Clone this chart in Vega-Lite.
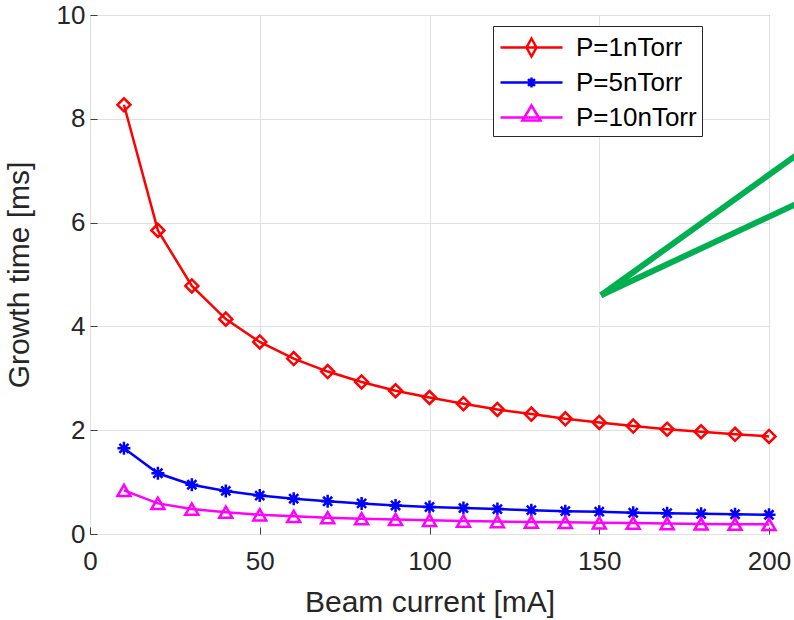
{
  "$schema": "https://vega.github.io/schema/vega-lite/v6.json",
  "width": 679,
  "height": 519,
  "autosize": {"type": "none"},
  "padding": {"left": 90, "top": 15, "right": 25, "bottom": 86},
  "background": "white",
  "config": {
    "font": "Liberation Sans",
    "view": {"stroke": "#404040", "strokeWidth": 1},
    "axis": {
      "domain": false,
      "grid": true,
      "gridColor": "#e0e0e0",
      "gridWidth": 1,
      "tickColor": "#404040",
      "tickSize": -7,
      "labelFlush": false,
      "labelOverlap": false,
      "labelFontSize": 26,
      "labelColor": "#262626",
      "labelFont": "Liberation Sans",
      "titleFont": "Liberation Sans",
      "titleFontSize": 30,
      "titleFontWeight": "normal",
      "titleColor": "#262626"
    }
  },
  "datasets": {
    "curves": [
      {"I": 10, "t": 8.27, "series": "P=1nTorr"},
      {"I": 20, "t": 5.85, "series": "P=1nTorr"},
      {"I": 30, "t": 4.78, "series": "P=1nTorr"},
      {"I": 40, "t": 4.14, "series": "P=1nTorr"},
      {"I": 50, "t": 3.70, "series": "P=1nTorr"},
      {"I": 60, "t": 3.38, "series": "P=1nTorr"},
      {"I": 70, "t": 3.13, "series": "P=1nTorr"},
      {"I": 80, "t": 2.93, "series": "P=1nTorr"},
      {"I": 90, "t": 2.76, "series": "P=1nTorr"},
      {"I": 100, "t": 2.63, "series": "P=1nTorr"},
      {"I": 110, "t": 2.51, "series": "P=1nTorr"},
      {"I": 120, "t": 2.40, "series": "P=1nTorr"},
      {"I": 130, "t": 2.31, "series": "P=1nTorr"},
      {"I": 140, "t": 2.22, "series": "P=1nTorr"},
      {"I": 150, "t": 2.15, "series": "P=1nTorr"},
      {"I": 160, "t": 2.08, "series": "P=1nTorr"},
      {"I": 170, "t": 2.02, "series": "P=1nTorr"},
      {"I": 180, "t": 1.97, "series": "P=1nTorr"},
      {"I": 190, "t": 1.92, "series": "P=1nTorr"},
      {"I": 200, "t": 1.88, "series": "P=1nTorr"},
      {"I": 10, "t": 1.65, "series": "P=5nTorr"},
      {"I": 20, "t": 1.17, "series": "P=5nTorr"},
      {"I": 30, "t": 0.95, "series": "P=5nTorr"},
      {"I": 40, "t": 0.83, "series": "P=5nTorr"},
      {"I": 50, "t": 0.74, "series": "P=5nTorr"},
      {"I": 60, "t": 0.68, "series": "P=5nTorr"},
      {"I": 70, "t": 0.63, "series": "P=5nTorr"},
      {"I": 80, "t": 0.59, "series": "P=5nTorr"},
      {"I": 90, "t": 0.55, "series": "P=5nTorr"},
      {"I": 100, "t": 0.52, "series": "P=5nTorr"},
      {"I": 110, "t": 0.50, "series": "P=5nTorr"},
      {"I": 120, "t": 0.48, "series": "P=5nTorr"},
      {"I": 130, "t": 0.46, "series": "P=5nTorr"},
      {"I": 140, "t": 0.44, "series": "P=5nTorr"},
      {"I": 150, "t": 0.43, "series": "P=5nTorr"},
      {"I": 160, "t": 0.41, "series": "P=5nTorr"},
      {"I": 170, "t": 0.40, "series": "P=5nTorr"},
      {"I": 180, "t": 0.39, "series": "P=5nTorr"},
      {"I": 190, "t": 0.38, "series": "P=5nTorr"},
      {"I": 200, "t": 0.37, "series": "P=5nTorr"},
      {"I": 10, "t": 0.84, "series": "P=10nTorr"},
      {"I": 20, "t": 0.59, "series": "P=10nTorr"},
      {"I": 30, "t": 0.48, "series": "P=10nTorr"},
      {"I": 40, "t": 0.42, "series": "P=10nTorr"},
      {"I": 50, "t": 0.37, "series": "P=10nTorr"},
      {"I": 60, "t": 0.34, "series": "P=10nTorr"},
      {"I": 70, "t": 0.315, "series": "P=10nTorr"},
      {"I": 80, "t": 0.295, "series": "P=10nTorr"},
      {"I": 90, "t": 0.28, "series": "P=10nTorr"},
      {"I": 100, "t": 0.265, "series": "P=10nTorr"},
      {"I": 110, "t": 0.25, "series": "P=10nTorr"},
      {"I": 120, "t": 0.24, "series": "P=10nTorr"},
      {"I": 130, "t": 0.23, "series": "P=10nTorr"},
      {"I": 140, "t": 0.225, "series": "P=10nTorr"},
      {"I": 150, "t": 0.215, "series": "P=10nTorr"},
      {"I": 160, "t": 0.21, "series": "P=10nTorr"},
      {"I": 170, "t": 0.20, "series": "P=10nTorr"},
      {"I": 180, "t": 0.195, "series": "P=10nTorr"},
      {"I": 190, "t": 0.19, "series": "P=10nTorr"},
      {"I": 200, "t": 0.185, "series": "P=10nTorr"}
    ],
    "green": [
      {"I": 150.5, "t": 4.6, "seg": "a"},
      {"I": 210, "t": 7.39, "seg": "a"},
      {"I": 150.5, "t": 4.6, "seg": "b"},
      {"I": 210, "t": 6.42, "seg": "b"}
    ]
  },
  "layer": [
    {
      "data": {"name": "curves"},
      "mark": {"type": "line", "strokeWidth": 2.5},
      "encoding": {
        "x": {"field": "I", "type": "quantitative", "scale": {"domain": [0, 200], "nice": false}, "axis": {"title": "Beam current [mA]", "values": [0, 50, 100, 150, 200], "labelPadding": 21, "titlePadding": 13}},
        "y": {"field": "t", "type": "quantitative", "scale": {"domain": [0, 10], "nice": false}, "axis": {"title": "Growth time [ms]", "values": [0, 2, 4, 6, 8, 10], "labelPadding": 12, "titlePadding": 22}},
        "color": {"field": "series", "type": "nominal", "scale": {"domain": ["P=1nTorr", "P=5nTorr", "P=10nTorr"], "range": ["#ff0000", "#0000ff", "#ff00ff"]}, "legend": null}
      }
    },
    {
      "data": {"name": "curves"},
      "mark": {"type": "point", "filled": false, "strokeWidth": 2.5, "size": 169, "opacity": 1},
      "encoding": {
        "x": {"field": "I", "type": "quantitative"},
        "y": {"field": "t", "type": "quantitative"},
        "color": {"field": "series", "type": "nominal", "legend": null},
        "shape": {"field": "series", "type": "nominal", "scale": {"domain": ["P=1nTorr", "P=5nTorr", "P=10nTorr"], "range": ["diamond", "M-1,0H1M0,-1V1M-0.7,-0.7L0.7,0.7M-0.7,0.7L0.7,-0.7", "triangle-up"]}, "legend": null}
      }
    },
    {
      "data": {"name": "curves"},
      "mark": {"type": "point", "filled": false, "strokeWidth": 2.5, "size": 900, "opacity": 0},
      "encoding": {
        "x": {"field": "I", "type": "quantitative"},
        "y": {"field": "t", "type": "quantitative"},
        "color": {"field": "series", "type": "nominal", "legend": {"title": null, "orient": "none", "legendX": 403, "legendY": 11, "strokeColor": "#262626", "fillColor": "white", "padding": 5, "symbolSize": 900, "symbolStrokeWidth": 2.5, "symbolOpacity": 1, "labelFontSize": 26, "labelColor": "black", "labelFont": "Liberation Sans", "labelOffset": 45, "rowPadding": 4, "labelLimit": 300}},
        "shape": {"field": "series", "type": "nominal", "scale": {"domain": ["P=1nTorr", "P=5nTorr", "P=10nTorr"], "range": ["M-0.933,0H3.2M1.133,-0.6L1.466,0L1.133,0.6L0.8,0Z", "M-0.933,0H3.2M1.133,-0.33V0.33M0.8,0H1.466M0.9,-0.23L1.366,0.23M0.9,0.23L1.366,-0.23", "M-0.933,0H3.2M1.133,-0.8L1.733,0.2L0.533,0.2Z"]}, "legend": {"title": null, "orient": "none", "legendX": 403, "legendY": 11, "strokeColor": "#262626", "fillColor": "white", "padding": 5, "symbolSize": 900, "symbolStrokeWidth": 2.5, "symbolOpacity": 1, "labelFontSize": 26, "labelColor": "black", "labelFont": "Liberation Sans", "labelOffset": 45, "rowPadding": 4, "labelLimit": 300}}
      }
    },
    {
      "data": {"name": "green"},
      "mark": {"type": "line", "color": "#00B050", "strokeWidth": 6, "clip": false, "strokeCap": "butt"},
      "encoding": {
        "x": {"field": "I", "type": "quantitative"},
        "y": {"field": "t", "type": "quantitative"},
        "detail": {"field": "seg", "type": "nominal"}
      }
    }
  ],
  "resolve": {"scale": {"shape": "independent"}, "legend": {"shape": "independent", "color": "independent"}}
}
